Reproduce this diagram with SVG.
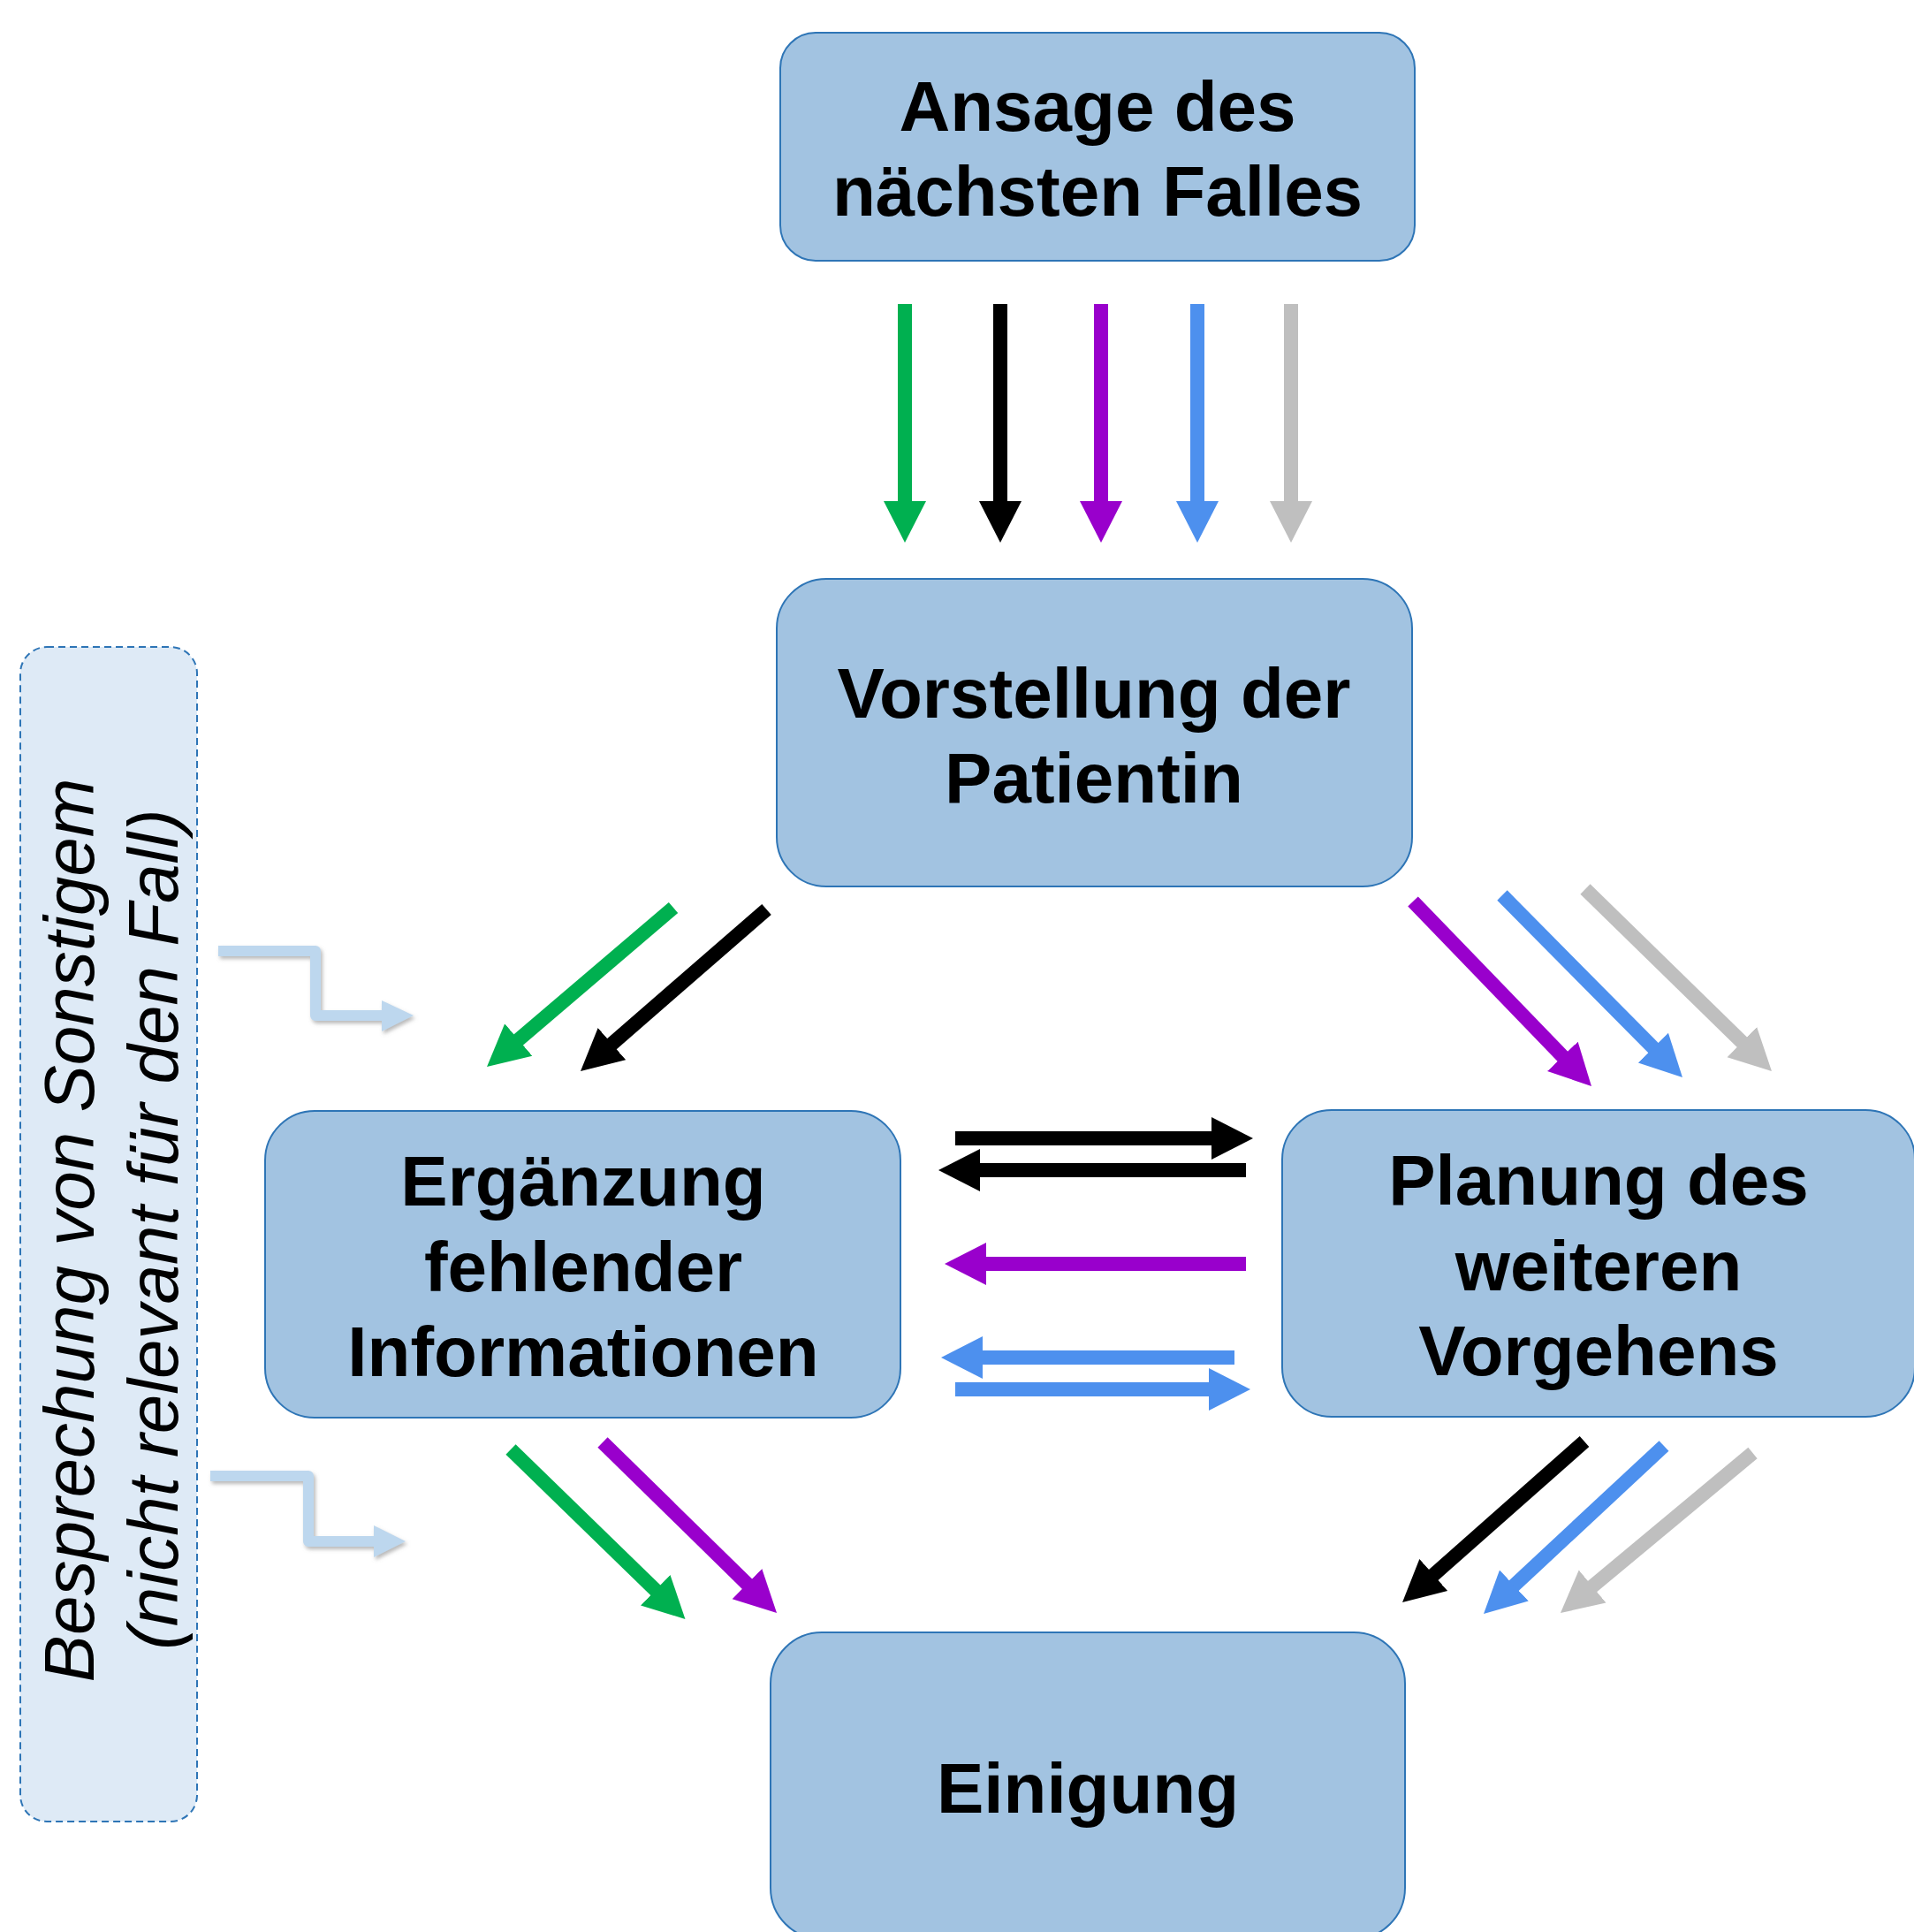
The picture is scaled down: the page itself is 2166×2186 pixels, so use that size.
<svg xmlns="http://www.w3.org/2000/svg" width="2166" height="2186" viewBox="0 0 2166 2186">
<style>
.box{fill:#A2C3E1;stroke:#2E75B6;stroke-width:2}
.lbl{font-family:"Liberation Sans",Arial,sans-serif;font-weight:bold;font-size:80px;fill:#000;text-anchor:middle}
.side{fill:#DEEAF6;stroke:#2E75B6;stroke-width:2;stroke-dasharray:8 5}
.sidetxt{font-family:"Liberation Sans",Arial,sans-serif;font-style:italic;font-size:80px;fill:#000;text-anchor:middle}
.a{fill:none;stroke-width:16;stroke-linecap:butt}
.g{stroke:#00B050;marker-end:url(#mg)}
.k{stroke:#000000;marker-end:url(#mk)}
.p{stroke:#9900CC;marker-end:url(#mp)}
.b{stroke:#4D90EE;marker-end:url(#mb)}
.s{stroke:#BFBFBF;marker-end:url(#ms)}
.elb{fill:none;stroke:#BDD7EE;stroke-width:12;stroke-linejoin:round}
</style>
<defs>
<marker id="mg" markerUnits="userSpaceOnUse" markerWidth="48" markerHeight="50" viewBox="0 -25 48 50" refX="3" refY="0" orient="auto"><path d="M0,-24 L47,0 L0,24 Z" fill="#00B050"/></marker>
<marker id="mk" markerUnits="userSpaceOnUse" markerWidth="48" markerHeight="50" viewBox="0 -25 48 50" refX="3" refY="0" orient="auto"><path d="M0,-24 L47,0 L0,24 Z" fill="#000000"/></marker>
<marker id="mp" markerUnits="userSpaceOnUse" markerWidth="48" markerHeight="50" viewBox="0 -25 48 50" refX="3" refY="0" orient="auto"><path d="M0,-24 L47,0 L0,24 Z" fill="#9900CC"/></marker>
<marker id="mb" markerUnits="userSpaceOnUse" markerWidth="48" markerHeight="50" viewBox="0 -25 48 50" refX="3" refY="0" orient="auto"><path d="M0,-24 L47,0 L0,24 Z" fill="#4D90EE"/></marker>
<marker id="ms" markerUnits="userSpaceOnUse" markerWidth="48" markerHeight="50" viewBox="0 -25 48 50" refX="3" refY="0" orient="auto"><path d="M0,-24 L47,0 L0,24 Z" fill="#BFBFBF"/></marker>
<filter id="sh" x="-20%" y="-20%" width="140%" height="160%"><feDropShadow dx="2" dy="3" stdDeviation="2" flood-color="#808080" flood-opacity="0.55"/></filter>
</defs>

<g id="side">
<rect class="side" x="23" y="732" width="200" height="1329" rx="30" ry="30"/>
<text class="sidetxt" transform="translate(106,1392) rotate(-90)">Besprechung von Sonstigem</text>
<text class="sidetxt" transform="translate(201,1391) rotate(-90)">(nicht relevant für den Fall)</text>
</g>

<g id="node-ansage">
<rect class="box" x="883" y="37" width="718" height="258" rx="40" ry="40"/>
<text class="lbl" x="1242" y="148">Ansage des</text>
<text class="lbl" x="1242" y="244">nächsten Falles</text>
</g>

<g id="node-vorstellung">
<rect class="box" x="879" y="655" width="719" height="348" rx="56" ry="56"/>
<text class="lbl" x="1238" y="812">Vorstellung der</text>
<text class="lbl" x="1238" y="908">Patientin</text>
</g>

<g id="node-ergaenzung">
<rect class="box" x="300" y="1257" width="719" height="347" rx="56" ry="56"/>
<text class="lbl" x="660" y="1364">Ergänzung</text>
<text class="lbl" x="660" y="1461">fehlender</text>
<text class="lbl" x="660" y="1557">Informationen</text>
</g>

<g id="node-planung">
<rect class="box" x="1451" y="1256" width="716" height="347" rx="56" ry="56"/>
<text class="lbl" x="1809" y="1363">Planung des</text>
<text class="lbl" x="1809" y="1460">weiteren</text>
<text class="lbl" x="1809" y="1556">Vorgehens</text>
</g>

<g id="node-einigung">
<rect class="box" x="872" y="1847" width="718" height="347" rx="58" ry="58"/>
<text class="lbl" x="1231" y="2051">Einigung</text>
</g>

<g id="connectors">
<line class="a g" x1="1024" y1="344" x2="1024" y2="570"/>
<line class="a k" x1="1132" y1="344" x2="1132" y2="570"/>
<line class="a p" x1="1246" y1="344" x2="1246" y2="570"/>
<line class="a b" x1="1355" y1="344" x2="1355" y2="570"/>
<line class="a s" x1="1461" y1="344" x2="1461" y2="570"/>

<line class="a g" x1="762" y1="1027" x2="584.5" y2="1178.4"/>
<line class="a k" x1="867.5" y1="1029" x2="690.2" y2="1183.1"/>
<line class="a p" x1="1599" y1="1020" x2="1770.4" y2="1197.4"/>
<line class="a b" x1="1700" y1="1013" x2="1873" y2="1187.7"/>
<line class="a s" x1="1794" y1="1006" x2="1973.5" y2="1181.3"/>

<line class="a k" x1="1081" y1="1288" x2="1374" y2="1288"/>
<line class="a k" x1="1410" y1="1324" x2="1106" y2="1324"/>
<line class="a p" x1="1410" y1="1430" x2="1113" y2="1430"/>
<line class="a b" x1="1397" y1="1536" x2="1109" y2="1536"/>
<line class="a b" x1="1081" y1="1572" x2="1371" y2="1572"/>

<line class="a g" x1="578" y1="1640" x2="743.9" y2="1801.3"/>
<line class="a p" x1="682" y1="1632" x2="847.6" y2="1794.2"/>
<line class="a k" x1="1793" y1="1631" x2="1620" y2="1783.9"/>
<line class="a b" x1="1883" y1="1636" x2="1711.2" y2="1796"/>
<line class="a s" x1="1983.5" y1="1644" x2="1799.8" y2="1796.9"/>

<g filter="url(#sh)">
<path class="elb" d="M247,1076 H357 V1149 H434"/>
<polygon points="432,1132 468,1149 432,1167" fill="#BDD7EE"/>
</g>
<g filter="url(#sh)">
<path class="elb" d="M238,1670 H349 V1744 H425"/>
<polygon points="423,1726 459,1744 423,1762" fill="#BDD7EE"/>
</g>
</g>
</svg>
